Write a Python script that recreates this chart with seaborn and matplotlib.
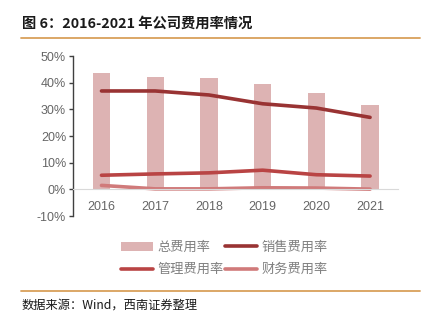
import numpy as np
import pandas as pd
import matplotlib
matplotlib.use("Agg")
import matplotlib.pyplot as plt
import seaborn as sns
from matplotlib.lines import Line2D
from matplotlib.patches import Patch
from matplotlib.ticker import FuncFormatter

years = ["2016", "2017", "2018", "2019", "2020", "2021"]
total_rate = [43.5, 42.0, 41.7, 39.4, 36.3, 31.7]
sales_rate = [36.9, 36.9, 35.4, 32.1, 30.5, 27.0]
admin_rate = [5.3, 5.8, 6.2, 7.2, 5.5, 5.0]
finance_rate = [1.5, 0.2, 0.2, 0.6, 0.5, 0.1]
series_names = ["总费用率", "销售费用率", "管理费用率", "财务费用率"]

sns.set_theme(style="white")
plt.rcParams['font.family'] = ['Noto Sans CJK SC', 'DejaVu Sans']

C_BAR = "#DDB3B3"
C_SALES = "#993333"
C_ADMIN = "#B94444"
C_FIN = "#D07A7A"
GRAY = "#666666"

fig = plt.figure(figsize=(4.23, 3.22), dpi=100)
ax = fig.add_axes([0.1726, 0.329, 0.9409 - 0.1726, 0.826 - 0.329])

df = pd.DataFrame({"year": years, "total": total_rate})
sns.barplot(data=df, x="year", y="total", color=C_BAR, width=0.32, ax=ax,
            saturation=1, edgecolor="none")
xs = np.arange(len(years))
sns.lineplot(x=xs, y=sales_rate, color=C_SALES, lw=2.6, ax=ax)
sns.lineplot(x=xs, y=admin_rate, color=C_ADMIN, lw=2.6, ax=ax)
sns.lineplot(x=xs, y=finance_rate, color=C_FIN, lw=2.6, ax=ax)

ax.set_ylim(-10, 50)
ax.set_xlim(-0.53, 5.52)
ax.set_yticks(np.arange(-10, 51, 10))
ax.yaxis.set_major_formatter(FuncFormatter(lambda v, p: f"{int(v)}%"))
ax.set_xlabel("")
ax.set_ylabel("")
for s in ["top", "right"]:
    ax.spines[s].set_visible(False)
ax.spines["bottom"].set_position(("data", 0))
ax.spines["bottom"].set_color("#D9D9D9")
ax.spines["bottom"].set_linewidth(0.8)
ax.spines["left"].set_color("#404040")
ax.spines["left"].set_linewidth(1.0)
ax.tick_params(axis="y", left=True, length=3, width=1, color="#404040",
               labelsize=9, labelcolor=GRAY, pad=2)
ax.tick_params(axis="x", bottom=False, length=0, labelsize=9,
               labelcolor=GRAY, pad=8)
for lab in ax.get_xticklabels() + ax.get_yticklabels():
    lab.set_family(['Liberation Sans'])

handles = [
    Patch(facecolor=C_BAR, edgecolor="none"),
    Line2D([0], [0], color=C_ADMIN, lw=2.6),
    Line2D([0], [0], color=C_SALES, lw=2.6),
    Line2D([0], [0], color=C_FIN, lw=2.6),
]
labels = [series_names[0], series_names[2], series_names[1], series_names[3]]
fig.legend(handles, labels, ncol=2, loc="center", bbox_to_anchor=(0.53, 0.197),
           frameon=False, fontsize=9.5, labelcolor="#808080", handlelength=2.4,
           handleheight=0.7, columnspacing=0.1, handletextpad=0.35,
           labelspacing=0.7)

fig.text(0.052, 0.925, "图 6：2016-2021 年公司费用率情况", fontsize=10.3,
         fontweight="bold", color="#1A1A1A", va="center", ha="left")
fig.add_artist(Line2D([0.05, 0.993], [0.882, 0.882], color="#D9A05B", lw=1.3,
                      transform=fig.transFigure))
fig.add_artist(Line2D([0.05, 0.993], [0.097, 0.097], color="#D9A05B", lw=1.3,
                      transform=fig.transFigure))
fig.text(0.052, 0.052, "数据来源：Wind，西南证券整理", fontsize=8.8,
         style="italic", color="#1A1A1A", va="center", ha="left")

fig.savefig("out.png", dpi=100)
